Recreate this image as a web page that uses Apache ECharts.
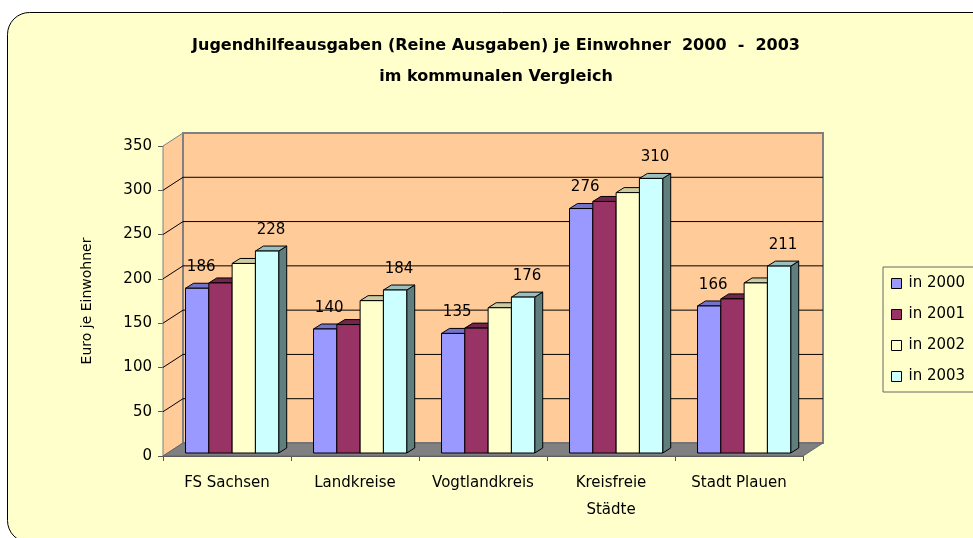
<!DOCTYPE html>
<html>
<head>
<meta charset="utf-8">
<script src="https://cdn.jsdelivr.net/npm/echarts@6/dist/echarts.min.js"></script>
<style>
  html, body { margin: 0; padding: 0; background: #fff; }
  #main { width: 973px; height: 538px; }
</style>
</head>
<body>
<div id="main"></div>
<script>
// Daten
var categories = ['FS Sachsen', 'Landkreise', 'Vogtlandkreis', 'Kreisfreie\nStädte', 'Stadt Plauen'];
var years = ['in 2000', 'in 2001', 'in 2002', 'in 2003'];
var v2000 = [186, 140, 135, 276, 166];
var v2001 = [192, 145, 141, 284, 174];
var v2002 = [214, 172, 164, 294, 192];
var v2003 = [228, 184, 176, 310, 211];
var yTicks = [0, 50, 100, 150, 200, 250, 300, 350];
var labeledYears = [0, 3];

var seriesValues = [v2000, v2001, v2002, v2003];

// Farben (Vorderseite, Deckel, Seite)
var fronts = ['#9999FF', '#993366', '#FFFFCC', '#CCFFFF'];
var tops = ['#7373CC', '#73264D', '#CCCCA3', '#99BFBF'];
var sides = ['#5C5C99', '#5C1F3D', '#999980', '#5F7F7F'];

var FONT = 'DejaVu Sans';
var WALL_DX = 20, WALL_DY = 13;   // Tiefe der Wand
var BAR_DX = 8, BAR_DY = 5;       // Tiefe der Säulen

var chart = echarts.init(document.getElementById('main'));

// Rückwand, Seitenwand, Boden und Gitterlinien
function renderWalls(params, api) {
  var cs = params.coordSys;
  var L = cs.x, R = cs.x + cs.width, T = cs.y, B = cs.y + cs.height;
  var children = [];
  children.push({
    type: 'polygon',
    shape: { points: [[L, T], [L + WALL_DX, T - WALL_DY], [L + WALL_DX, B - WALL_DY], [L, B]] },
    style: { fill: '#FFCC99', stroke: '#808080', lineWidth: 1 }
  });
  children.push({
    type: 'rect',
    shape: { x: L + WALL_DX, y: T - WALL_DY, width: R - L, height: B - T },
    style: { fill: '#FFCC99', stroke: '#808080', lineWidth: 2 }
  });
  yTicks.forEach(function (v) {
    if (v === 0 || v === yTicks[yTicks.length - 1]) return;
    var y = api.coord([0, v])[1];
    children.push({
      type: 'polyline',
      shape: { points: [[L, y], [L + WALL_DX, y - WALL_DY], [R + WALL_DX, y - WALL_DY]] },
      style: { stroke: '#000', lineWidth: 1, fill: null }
    });
  });
  children.push({
    type: 'polygon',
    shape: { points: [[L, B], [L + WALL_DX, B - WALL_DY], [R + WALL_DX, B - WALL_DY], [R, B]] },
    style: { fill: '#808080', stroke: '#666', lineWidth: 1 }
  });
  return { type: 'group', children: children };
}

function makeBarRenderer(k) {
  return function (params, api) {
    var cat = api.value(0), val = api.value(1);
    var top = api.coord([cat, val]);
    var base = api.coord([cat, 0]);
    var band = api.size([1, 0])[0];
    var w = band * 0.182;
    var x = top[0] - 2 * w + band * 0.04 + k * w;
    var yT = top[1] - 3, yB = base[1] - 3;
    var st = { stroke: '#000', lineWidth: 1 };
    var children = [
      {
        type: 'polygon',
        shape: { points: [[x + w, yT], [x + w + BAR_DX, yT - BAR_DY], [x + w + BAR_DX, yB - BAR_DY], [x + w, yB]] },
        style: Object.assign({ fill: sides[k] }, st)
      },
      {
        type: 'polygon',
        shape: { points: [[x, yT], [x + BAR_DX, yT - BAR_DY], [x + w + BAR_DX, yT - BAR_DY], [x + w, yT]] },
        style: Object.assign({ fill: tops[k] }, st)
      },
      {
        type: 'rect',
        shape: { x: x, y: yT, width: w, height: yB - yT },
        style: Object.assign({ fill: fronts[k] }, st)
      }
    ];
    if (labeledYears.indexOf(k) >= 0) {
      children.push({
        type: 'text',
        style: {
          x: x + w / 2 + 4, y: yT - 21,
          text: String(val),
          align: 'center', verticalAlign: 'middle',
          font: '15px "' + FONT + '"', fill: '#000'
        }
      });
    }
    return { type: 'group', children: children };
  };
}

var series = [{
  type: 'custom',
  name: 'wand',
  z: 1,
  silent: true,
  renderItem: renderWalls,
  data: [[0, 0]],
  encode: { x: 0, y: 1 }
}];
seriesValues.forEach(function (vals, k) {
  series.push({
    type: 'custom',
    name: years[k],
    z: 2 + k,
    itemStyle: { color: fronts[k] },
    renderItem: makeBarRenderer(k),
    data: vals.map(function (v, i) { return [i, v]; }),
    encode: { x: 0, y: 1 }
  });
});

chart.setOption({
  backgroundColor: '#ffffff',
  animation: false,
  graphic: [{
    type: 'rect',
    z: -10,
    shape: { x: 7.5, y: 12.5, width: 1000, height: 530, r: 22 },
    style: { fill: '#FFFFCC', stroke: '#000', lineWidth: 1 }
  }],
  title: {
    text: 'Jugendhilfeausgaben (Reine Ausgaben) je Einwohner  2000  -  2003\nim kommunalen Vergleich',
    left: 496,
    top: 30,
    textAlign: 'center',
    padding: 0,
    textStyle: { fontFamily: FONT, fontSize: 16, fontWeight: 'bold', color: '#000', lineHeight: 31 }
  },
  legend: {
    data: years,
    orient: 'vertical',
    left: 883,
    top: 267,
    padding: [9, 80, 8, 8],
    itemGap: 16,
    itemWidth: 10,
    itemHeight: 10,
    icon: 'rect',
    backgroundColor: '#FFFFCC',
    borderColor: '#666',
    borderWidth: 1,
    itemStyle: { borderColor: '#000', borderWidth: 1 },
    textStyle: { fontFamily: FONT, fontSize: 15, color: '#000', padding: [0, 0, 0, 2] }
  },
  grid: { left: 163, right: 170, top: 146, bottom: 82 },
  xAxis: {
    type: 'category',
    data: categories,
    axisLine: { lineStyle: { color: '#555' } },
    axisTick: { show: true, length: 5, lineStyle: { color: '#555' } },
    axisLabel: { interval: 0, fontFamily: FONT, fontSize: 15, color: '#000', margin: 14, lineHeight: 27 },
    splitLine: { show: false }
  },
  yAxis: {
    type: 'value',
    min: 0,
    max: 350,
    interval: 50,
    name: 'Euro je Einwohner',
    nameLocation: 'middle',
    nameRotate: 90,
    nameGap: 69,
    nameTextStyle: { fontFamily: FONT, fontSize: 14, color: '#000' },
    axisLine: { show: true, lineStyle: { color: '#555' } },
    axisTick: { show: true, length: 5, lineStyle: { color: '#555' } },
    axisLabel: { fontFamily: FONT, fontSize: 15, color: '#000', margin: 11 },
    splitLine: { show: false }
  },
  series: series
});
</script>
</body>
</html>
